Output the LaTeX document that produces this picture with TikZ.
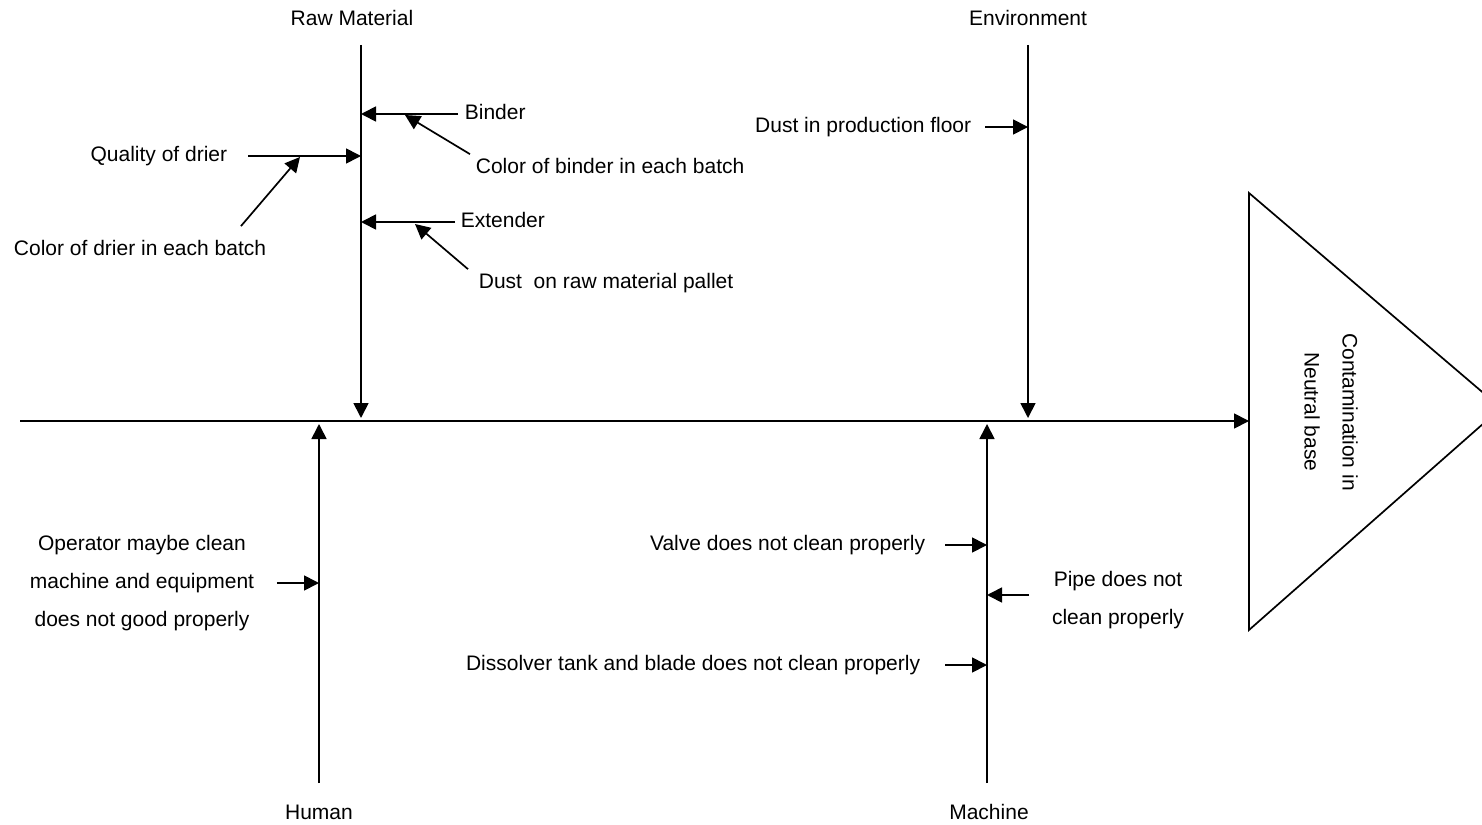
\documentclass[tikz,border=0pt]{standalone}
\usepackage{fontspec}
\setmainfont{Liberation Sans}
\usetikzlibrary{arrows.meta}

\begin{document}
\begin{tikzpicture}[x=1pt, y=-1pt, line width=1.7pt,
  lbl/.style={font=\fontsize{21}{38}\selectfont, inner sep=0pt, text height=15.5pt, text depth=4.5pt},
  mlbl/.style={font=\fontsize{21}{38}\selectfont, inner sep=0pt, align=center},
  arr/.style={-{Triangle[length=15pt,width=15pt]}}]
 \useasboundingbox (0,0) rectangle (1482,824);
 \coordinate (tail)    at (20,421);
 \coordinate (headl)   at (1249,421);
 \coordinate (tritop)  at (1249,193);
 \coordinate (triapex) at (1501,408);
 \coordinate (tribot)  at (1249,630);
 \coordinate (rawtop)  at (361,45);
 \coordinate (rawend)  at (361,418);
 \coordinate (envtop)  at (1028,45);
 \coordinate (envend)  at (1028,418);
 \coordinate (humbot)  at (319,783);
 \coordinate (humend)  at (319,424);
 \coordinate (macbot)  at (987,783);
 \coordinate (macend)  at (987,424);
 \coordinate (cbindertip) at (405,115);
 \coordinate (cdriertip)  at (300,157);
 \coordinate (dusttip)    at (415,224);
 \node [mlbl, rotate=-90] (effect) at (1331,412) {Contamination in\\Neutral base};
 \node [lbl] (raw)     at (352,20)  {Raw Material};
 \node [lbl] (env)     at (1028,20) {Environment};
 \node [lbl] (human)   at (319,814) {Human};
 \node [lbl] (machine) at (989,814) {Machine};
 \node [lbl, anchor=west] (binder)   at (464,114) {Binder};
 \node [lbl, anchor=west] (cbinder)  at (475,168) {Color of binder in each batch};
 \node [lbl, anchor=east] (drier)    at (228,156) {Quality of drier};
 \node [lbl]              (cdrier)   at (140,250) {Color of drier in each batch};
 \node [lbl, anchor=west] (extender) at (460,222) {Extender};
 \node [lbl, anchor=west] (dust)     at (478,283) {Dust\ \ on raw material pallet};
 \node [lbl, anchor=east] (floor)    at (972,127) {Dust in production floor};
 \node [lbl, anchor=east] (valve)    at (926,545) {Valve does not clean properly};
 \node [mlbl]             (pipe)     at (1118,600) {Pipe does not\\clean properly};
 \node [lbl, anchor=east] (tank)     at (921,665) {Dissolver tank and blade does not clean properly};
 \node [mlbl]             (operator) at (142,583) {Operator maybe clean\\machine and equipment\\does not good properly};
  \draw[arr] (tail) -- (headl);
  \draw (tritop) -- (triapex) -- (tribot) -- cycle;
  \draw[arr] (rawtop) -- (rawend);
  \draw[arr] (envtop) -- (envend);
  \draw[arr] (humbot) -- (humend);
  \draw[arr] (macbot) -- (macend);
  \draw[arr, shorten <=6pt]  (binder.west) -- (binder.west -| rawtop);
  \draw[arr] ([xshift=-5pt,yshift=3pt]cbinder.north west) -- (cbindertip);
  \draw[arr, shorten <=20pt] (drier.east) -- (drier.east -| rawtop);
  \draw[arr] ([xshift=-26pt,yshift=13pt]cdrier.north east) -- (cdriertip);
  \draw[arr, shorten <=5pt]  (extender.west) -- (extender.west -| rawtop);
  \draw[arr] ([xshift=-10pt,yshift=3pt]dust.north west) -- (dusttip);
  \draw[arr, shorten <=13pt] (floor.east) -- (floor.east -| envtop);
  \draw[arr, shorten <=19pt] (valve.east) -- (valve.east -| macbot);
  \draw[arr, shorten <=22pt] ([yshift=5pt]pipe.west) -- ([yshift=5pt]pipe.west -| macbot);
  \draw[arr, shorten <=24pt] (tank.east) -- (tank.east -| macbot);
  \draw[arr, shorten <=22pt] (operator.east) -- (operator.east -| humbot);
\end{tikzpicture}
\end{document}
